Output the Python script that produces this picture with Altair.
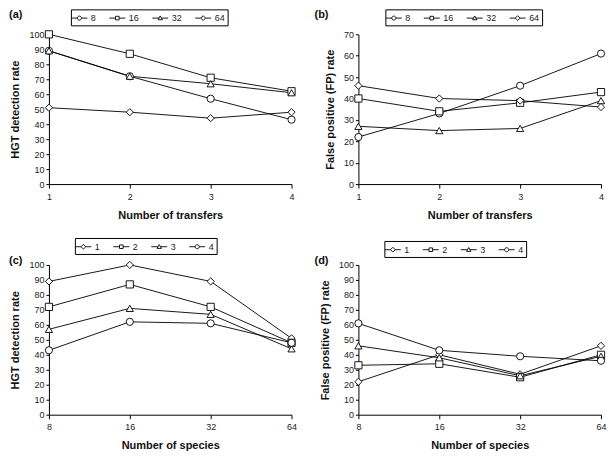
import altair as alt
import pandas as pd

FONT = "Liberation Sans"

# ---- data ----
transfers = [1, 2, 3, 4]
species = [8, 16, 32, 64]

# HGT detection rate, one list per number of species, across transfers 1..4
hgt_8 = [89, 72, 57, 43]
hgt_16 = [100, 87, 71, 62]
hgt_32 = [89, 72, 67, 61]
hgt_64 = [51, 48, 44, 48]

# False positive rate, one list per number of species, across transfers 1..4
fp_8 = [22, 33, 46, 61]
fp_16 = [40, 34, 38, 43]
fp_32 = [27, 25, 26, 39]
fp_64 = [46, 40, 39, 36]

hgt = {8: hgt_8, 16: hgt_16, 32: hgt_32, 64: hgt_64}
fp = {8: fp_8, 16: fp_16, 32: fp_32, 64: fp_64}

species_labels = ["8", "16", "32", "64"]
transfer_labels = ["1", "2", "3", "4"]


def by_transfers(table):
    rows = []
    for s in species:
        for i, t in enumerate(transfers):
            rows.append({"x": t, "value": table[s][i], "series": str(s)})
    return pd.DataFrame(rows)


def by_species(table):
    rows = []
    for i, t in enumerate(transfers):
        for s in species:
            rows.append({"x": s, "value": table[s][i], "series": str(t)})
    return pd.DataFrame(rows)


# legend symbols: line - marker - line (unit path coordinates)
L = 1.33
P_CIRCLE = f"M-{L},0H-0.34M0.34,0H{L}M0.34,0A0.34,0.34 0 1 1 -0.34,0A0.34,0.34 0 1 1 0.34,0Z"
P_SQUARE = f"M-{L},0H-0.3M0.3,0H{L}M-0.3,-0.3H0.3V0.3H-0.3Z"
P_TRI = f"M-{L},0H-0.2M0.2,0H{L}M0,-0.36L0.36,0.28H-0.36Z"
P_DIAM = f"M-{L},0H-0.4M0.4,0H{L}M0,-0.4L0.4,0L0,0.4L-0.4,0Z"

W, H = 243, 150


def panel(df, order, std_shapes, leg_shapes, xscale, xvals, xtitle, ytitle, ymax,
          label, lab_x, lab_y, leg_x, leg_y):
    x = alt.X("x:Q", scale=xscale,
              axis=alt.Axis(values=xvals, format="d", title=xtitle, grid=False,
                            domainColor="black", tickColor="black", tickSize=4,
                            labelPadding=4, titlePadding=8, labelFont=FONT,
                            labelFontSize=9, labelColor="#222", titleFont=FONT,
                            titleFontSize=11, titleFontWeight="bold", titleColor="#111",
                            labelFlush=False))
    y = alt.Y("value:Q", scale=alt.Scale(domain=[0, ymax], nice=False),
              axis=alt.Axis(values=list(range(0, ymax + 1, 10)), title=ytitle, grid=False,
                            domainColor="black", tickColor="black", tickSize=3,
                            labelPadding=2, titlePadding=8, labelFont=FONT,
                            labelFontSize=9, labelColor="#222", titleFont=FONT,
                            titleFontSize=11, titleFontWeight="bold", titleColor="#111"))
    base = alt.Chart(df)
    lines = base.mark_line(color="black", strokeWidth=0.9).encode(x=x, y=y, detail="series:N")
    pts = base.mark_point(filled=True, fill="white", stroke="black", strokeWidth=0.9,
                          size=52, opacity=1).encode(
        x=x, y=y,
        shape=alt.Shape("series:N", sort=order,
                        scale=alt.Scale(domain=order, range=std_shapes), legend=None))
    # legend-only layer: no marks drawn (filtered out), explicit scale domain keeps the legend
    leg = base.transform_filter("false").mark_point(
        filled=False, color="black", strokeWidth=0.9).encode(
        x=x, y=y,
        shape=alt.Shape("series:N", sort=order,
                        scale=alt.Scale(domain=order, range=leg_shapes),
                        legend=alt.Legend(orient="none", legendX=leg_x, legendY=leg_y,
                                          direction="horizontal", title=None,
                                          strokeColor="black", fillColor="white",
                                          padding=2, symbolSize=144,
                                          symbolStrokeColor="black",
                                          symbolStrokeWidth=0.9, symbolOpacity=1,
                                          labelFont=FONT, labelFontSize=9,
                                          labelColor="#222", labelOffset=5,
                                          columnPadding=10)))
    lab = alt.Chart(pd.DataFrame({"t": [label]})).mark_text(
        align="left", baseline="top", font=FONT, fontSize=11, fontWeight="bold",
        color="#111").encode(x=alt.value(lab_x), y=alt.value(lab_y), text="t:N")
    return alt.layer(lines, pts, leg, lab).resolve_scale(shape="independent").properties(
        width=W, height=H)


lin = alt.Scale(domain=[1, 4], nice=False, zero=False)
log2 = alt.Scale(type="log", base=2, domain=[8, 64], nice=False)

pa = panel(by_transfers(hgt), species_labels,
           ["circle", "square", "triangle-up", "diamond"],
           [P_CIRCLE, P_SQUARE, P_TRI, P_DIAM], lin, transfers,
           "Number of transfers", "HGT detection rate", 100,
           "(a)", -40, -25, 22, -25)
pb = panel(by_transfers(fp), species_labels,
           ["circle", "square", "triangle-up", "diamond"],
           [P_CIRCLE, P_SQUARE, P_TRI, P_DIAM], lin, transfers,
           "Number of transfers", "False positive (FP) rate", 70,
           "(b)", -44, -25, 27, -25)
pc = panel(by_species(hgt), transfer_labels,
           ["diamond", "square", "triangle-up", "circle"],
           [P_DIAM, P_SQUARE, P_TRI, P_CIRCLE], log2, species,
           "Number of species", "HGT detection rate", 100,
           "(c)", -40, -10, 26, -27)
pd_ = panel(by_species(fp), transfer_labels,
            ["diamond", "square", "triangle-up", "circle"],
            [P_DIAM, P_SQUARE, P_TRI, P_CIRCLE], log2, species,
            "Number of species", "False positive (FP) rate", 100,
            "(d)", -44, -10, 26, -24)

chart = alt.concat(pa, pb, pc, pd_, columns=2, bounds="flush",
                   spacing={"row": 81, "column": 67}).properties(
    padding=0, background="white").configure_view(stroke="transparent")

chart.save("out.html", embed_options={"renderer": "svg", "actions": False})
